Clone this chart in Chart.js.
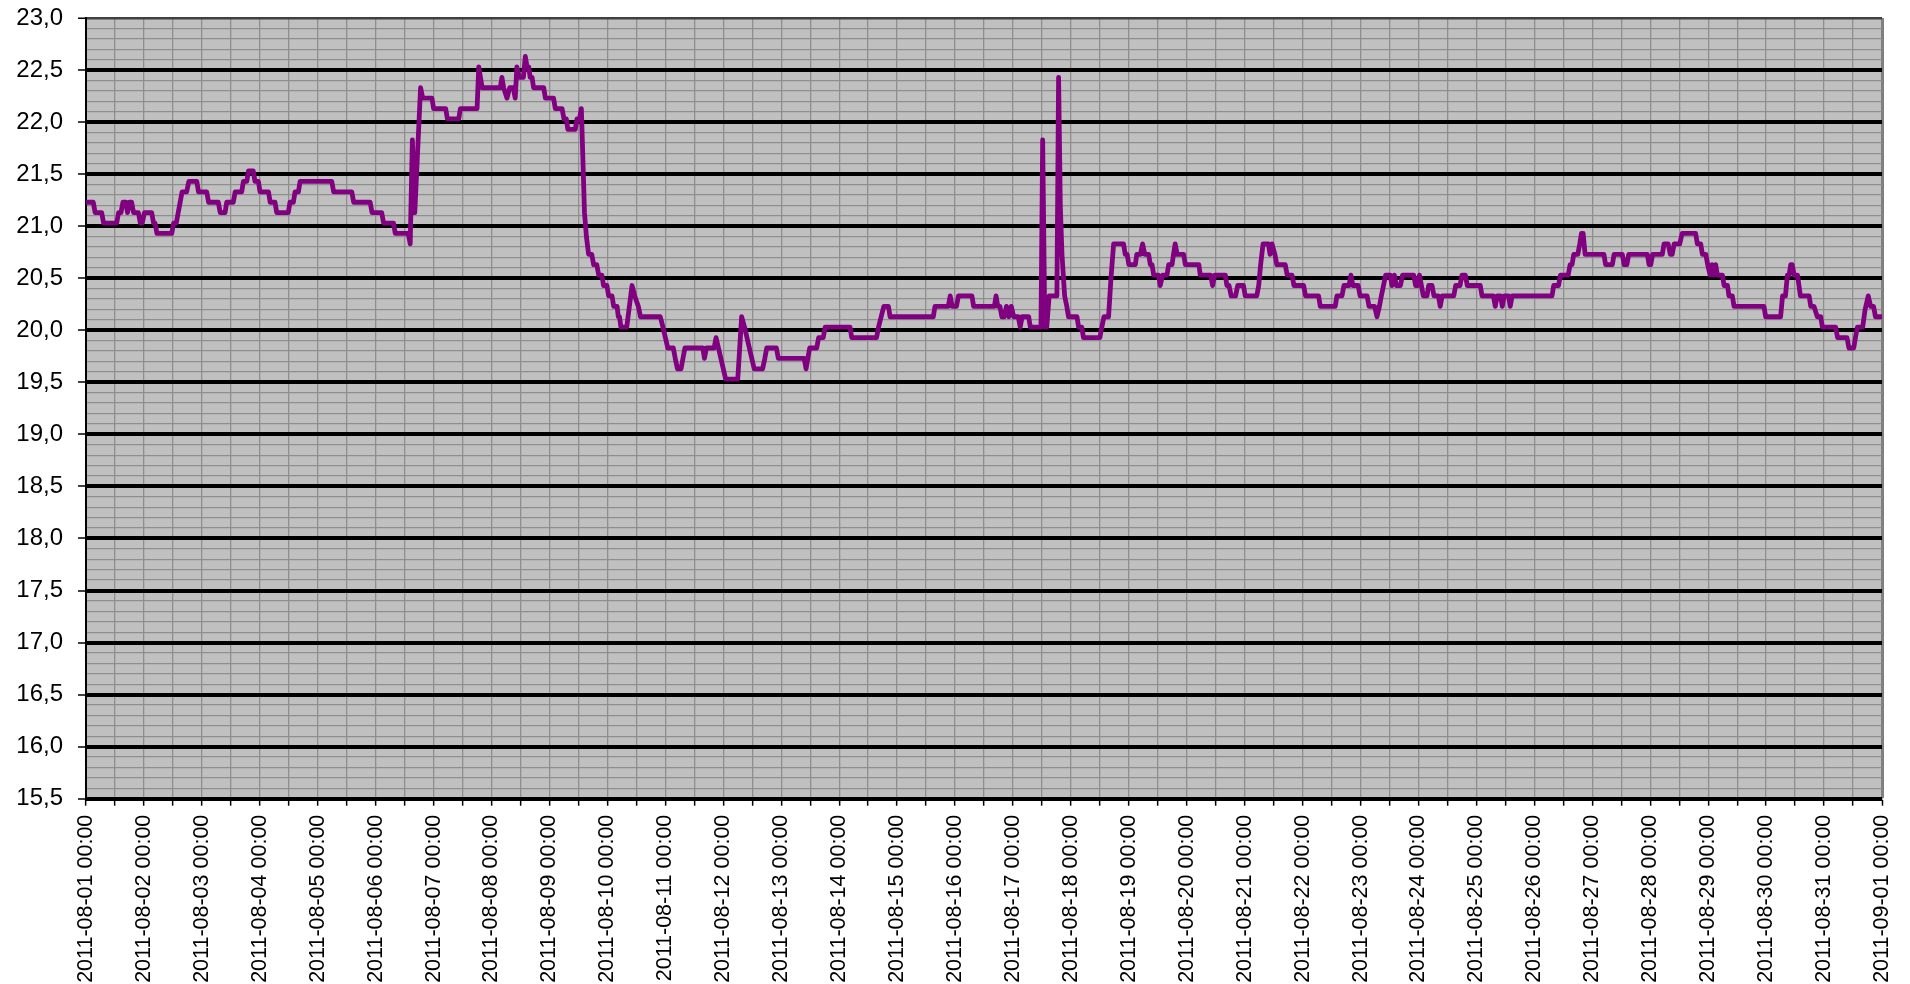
<!DOCTYPE html>
<html>
<head>
<meta charset="utf-8">
<script src="https://cdn.jsdelivr.net/npm/chart.js@4.4.0/dist/chart.umd.min.js"></script>
<style>
html,body{margin:0;padding:0;background:#fff;}
#wrap{width:1910px;height:984px;position:relative;}
</style>
</head>
<body>
<div id="wrap"><canvas id="c"></canvas></div>
<script>
// Tick labels
const dayLabels = [
 '2011-08-01 00:00','2011-08-02 00:00','2011-08-03 00:00','2011-08-04 00:00','2011-08-05 00:00',
 '2011-08-06 00:00','2011-08-07 00:00','2011-08-08 00:00','2011-08-09 00:00','2011-08-10 00:00',
 '2011-08-11 00:00','2011-08-12 00:00','2011-08-13 00:00','2011-08-14 00:00','2011-08-15 00:00',
 '2011-08-16 00:00','2011-08-17 00:00','2011-08-18 00:00','2011-08-19 00:00','2011-08-20 00:00',
 '2011-08-21 00:00','2011-08-22 00:00','2011-08-23 00:00','2011-08-24 00:00','2011-08-25 00:00',
 '2011-08-26 00:00','2011-08-27 00:00','2011-08-28 00:00','2011-08-29 00:00','2011-08-30 00:00',
 '2011-08-31 00:00','2011-09-01 00:00'];
const yTickLabels = ['15,5','16,0','16,5','17,0','17,5','18,0','18,5','19,0','19,5','20,0','20,5','21,0','21,5','22,0','22,5','23,0'];

// Series: hours since 2011-08-01 00:00 and temperature readings
const hours = [
 0,3,3.8,6.5,7.3,12.7,13.5,14.5,15.3,16.5,
 17.2,18,18.9,19.7,21.7,22.5,23.3,24.2,27.2,28,
 28.6,29.4,35.5,36.3,37.4,38.2,39,39.8,41.7,42.6,
 45.9,46.6,50,50.8,54.8,55.6,57.6,58.3,61,61.8,
 64.5,65.2,66.6,67.3,69.3,70,71.4,72.1,75.6,76.3,
 78.3,79,83.8,84.5,85.9,86.6,88,88.7,101.8,102.6,
 110.1,110.9,117.7,118.5,122.5,123.3,127.4,128.1,133.5,134.3,
 135.2,136.2,138.6,139.5,143.3,144,149,149.7,154.4,155.1,
 162,162.7,163.4,164.1,171.6,172.3,173,174.4,175.5,177,
 177.8,178.5,179.5,181.2,182,182.7,183.4,184,184.8,185.4,
 189.6,190.3,193.7,194.4,197.2,198,199,199.6,202.7,203.4,
 204.4,205.2,205.9,206.5,207.3,208.2,209.5,210.3,211.6,212.4,
 213.7,214.4,215.8,216.5,217.9,218.6,220,220.5,221,221.6,
 224,226.2,227.3,228.8,229.7,237.9,239,240,241,243.3,
 244.1,245,246.5,247.3,248.1,255.5,256.2,257,260.2,261,
 262,263,264,265,270,271.6,272.8,273.8,274.8,275.8,
 276.8,280.3,281.2,282,286,286.8,297.5,298.3,299,299.8,
 302.7,303.5,305.4,306.2,316.5,317.2,327.5,328.3,329.4,330.5,
 332.4,333.1,351,351.7,357.2,358,358.8,360.6,361.4,367,
 367.7,376.3,377,377.7,378.6,379.4,380.4,381.3,382.3,383.3,
 384.3,386.2,387,387.8,390.5,391.2,395.6,396.3,397.2,398,
 399,402.2,402.9,403.6,404.3,405.4,406.3,407,410.5,411.2,
 412.5,413.2,420,420.8,421.7,423.6,424.6,425.7,429.8,430.5,
 431.3,432,434.7,435.3,436.8,437.7,438.6,440.2,440.9,441.6,
 442.3,444.3,445,446,447.8,448.5,449.9,450.5,451.2,452,
 454.7,455.4,461,461.6,465.9,466.7,467.6,472,472.6,473.5,
 474.4,476.2,477.1,479.5,480.2,485,485.8,486.6,487.6,489.8,
 490.5,491.3,492.5,493.3,496.8,497.6,499.6,500.4,504.4,505.2,
 510.6,511.3,517.5,518.2,520.3,521.1,523.2,524,524.8,527,
 527.8,530.7,531.5,533.8,534.8,535.8,536.6,537.5,538.4,540.3,
 541,542,542.8,544.5,545.4,550,550.8,551.6,552.4,553.2,
 554,555.5,556.2,557.6,558.4,560.2,561,561.8,566.6,567.4,
 569.2,570,571.4,572.2,577.6,578.3,583,583.8,584.6,586,
 586.7,587.5,589.3,590,590.8,607.3,608,610,610.8,614,
 614.8,615.6,616.3,618,618.8,619.5,620.2,621,628.8,629.5,
 632.3,633,636.4,637.2,638.3,639.1,646.8,647.5,648.2,649,
 653,653.7,655.4,656.3,657.1,657.9,660.2,661.2,666.8,667.5,
 668.9,669.6,671,671.8,672.8,673.6,674.4,675.1,675.8,677.9,
 678.6,680,680.6,682,682.7,695.1,695.8,702,702.8,704,
 704.8,705.5,706.2,706.8,707.6,709,709.6,710.2,713.8,714.5,
 715.8,717.2,718.6,719.3,724.8,725.6,729.5,730.3,732.3,733,
 733.8,736,737,738.3,739.3,740.5,741.3,744];
const temps = [
 21.23,21.23,21.13,21.13,21.03,21.03,21.13,21.13,21.23,21.23,
 21.13,21.23,21.23,21.13,21.13,21.03,21.03,21.13,21.13,21.03,
 21.03,20.93,20.93,21.03,21.03,21.13,21.23,21.33,21.33,21.43,
 21.43,21.33,21.33,21.23,21.23,21.13,21.13,21.23,21.23,21.33,
 21.33,21.43,21.43,21.53,21.53,21.43,21.43,21.33,21.33,21.23,
 21.23,21.13,21.13,21.23,21.23,21.33,21.33,21.43,21.43,21.33,
 21.33,21.23,21.23,21.13,21.13,21.03,21.03,20.93,20.93,20.83,
 21.83,21.13,22.33,22.23,22.23,22.13,22.13,22.03,22.03,22.13,
 22.13,22.53,22.43,22.33,22.33,22.43,22.33,22.23,22.33,22.33,
 22.23,22.53,22.43,22.43,22.63,22.53,22.53,22.43,22.43,22.33,
 22.33,22.23,22.23,22.13,22.13,22.03,22.03,21.93,21.93,22.03,
 22.03,22.13,21.6,21.13,20.9,20.73,20.73,20.63,20.63,20.53,
 20.53,20.43,20.43,20.33,20.33,20.23,20.23,20.13,20.13,20.03,
 20.03,20.43,20.33,20.23,20.13,20.13,20.03,19.93,19.83,19.83,
 19.73,19.63,19.63,19.73,19.83,19.83,19.73,19.83,19.83,19.93,
 19.83,19.73,19.63,19.53,19.53,20.13,20.03,19.93,19.83,19.73,
 19.63,19.63,19.73,19.83,19.83,19.73,19.73,19.63,19.73,19.83,
 19.83,19.93,19.93,20.03,20.03,19.93,19.93,20.03,20.13,20.23,
 20.23,20.13,20.13,20.23,20.23,20.33,20.23,20.23,20.33,20.33,
 20.23,20.23,20.33,20.23,20.23,20.13,20.13,20.23,20.13,20.23,
 20.13,20.13,20.03,20.13,20.13,20.03,20.03,21.83,20.03,20.03,
 20.33,20.33,22.43,21.2,20.73,20.33,20.23,20.13,20.13,20.03,
 20.03,19.93,19.93,20.03,20.13,20.13,20.5,20.83,20.83,20.73,
 20.73,20.63,20.63,20.73,20.73,20.83,20.73,20.73,20.63,20.63,
 20.53,20.53,20.43,20.53,20.53,20.63,20.63,20.73,20.83,20.73,
 20.73,20.63,20.63,20.53,20.53,20.43,20.53,20.53,20.43,20.43,
 20.33,20.33,20.43,20.43,20.33,20.33,20.43,20.63,20.83,20.83,
 20.73,20.83,20.73,20.63,20.63,20.53,20.53,20.43,20.43,20.33,
 20.33,20.23,20.23,20.33,20.33,20.43,20.43,20.53,20.43,20.43,
 20.33,20.33,20.23,20.23,20.13,20.23,20.33,20.43,20.53,20.53,
 20.43,20.53,20.43,20.43,20.53,20.53,20.43,20.43,20.53,20.43,
 20.33,20.33,20.43,20.43,20.33,20.33,20.23,20.33,20.33,20.43,
 20.43,20.53,20.53,20.43,20.43,20.33,20.33,20.23,20.33,20.33,
 20.23,20.33,20.33,20.23,20.33,20.33,20.43,20.43,20.53,20.53,
 20.63,20.63,20.73,20.73,20.83,20.93,20.93,20.73,20.73,20.63,
 20.63,20.73,20.73,20.63,20.63,20.73,20.73,20.63,20.63,20.73,
 20.73,20.83,20.83,20.73,20.73,20.83,20.83,20.93,20.93,20.83,
 20.83,20.73,20.73,20.63,20.53,20.63,20.53,20.63,20.53,20.53,
 20.43,20.43,20.33,20.33,20.23,20.23,20.13,20.13,20.33,20.33,
 20.53,20.53,20.63,20.63,20.53,20.53,20.43,20.33,20.33,20.23,
 20.23,20.13,20.13,20.03,20.03,19.93,19.93,19.83,19.83,19.93,
 20.03,20.03,20.2,20.33,20.23,20.23,20.13,20.13];

const FONT = 'Liberation Sans, Arial, Helvetica, sans-serif';
const isMajor = v => Math.abs(v * 2 - Math.round(v * 2)) < 1e-6;

const bgPlugin = {
  id: 'bg',
  beforeDraw(chart) {
    const {ctx, chartArea: a} = chart;
    ctx.save();
    ctx.fillStyle = '#ffffff';
    ctx.fillRect(0, 0, chart.width, chart.height);
    ctx.fillStyle = '#c0c0c0';
    ctx.fillRect(a.left, a.top, a.right - a.left, a.bottom - a.top);
    ctx.restore();
  }
};

new Chart(document.getElementById('c'), {
  type: 'line',
  data: {
    datasets: [{
      data: hours.map((h, i) => ({x: h, y: temps[i]})),
      borderColor: '#800080',
      borderWidth: 4.8,
      pointRadius: 0,
      tension: 0,
      fill: false,
      borderJoinStyle: 'round',
      borderCapStyle: 'round'
    }]
  },
  options: {
    responsive: true,
    maintainAspectRatio: false,
    animation: false,
    layout: {padding: {top: 18, right: 28, left: 0, bottom: 0}},
    plugins: {legend: {display: false}, tooltip: {enabled: false}},
    scales: {
      x: {
        type: 'linear',
        min: 0,
        max: 744,
        afterBuildTicks: s => {
          const t = [];
          for (let i = 0; i <= 62; i++) t.push({value: i * 12});
          s.ticks = t;
        },
        afterFit: s => { s.height = 185.3; },
        ticks: {
          autoSkip: false,
          maxRotation: 90,
          minRotation: 90,
          padding: 9,
          color: '#000',
          font: {family: FONT, size: 21.5, lineHeight: 0.5},
          callback: v => (v % 24 === 0 ? dayLabels[v / 24] : '')
        },
        grid: {
          color: c => (c.tick && c.tick.value === 744 ? '#808080' : '#8e8e8e'),
          lineWidth: c => (c.tick && c.tick.value === 744 ? 3 : 1.3),
          tickColor: '#000',
          tickLength: 7,
          tickWidth: 1.5
        },
        border: {color: '#000', width: 2}
      },
      y: {
        min: 15.5,
        max: 23,
        afterBuildTicks: s => {
          const t = [];
          for (let i = 155; i <= 230; i++) t.push({value: i / 10});
          s.ticks = t;
        },
        afterFit: s => { s.width = 86; },
        ticks: {
          autoSkip: false,
          padding: 15,
          color: '#000',
          font: {family: FONT, size: 24, lineHeight: 0.2},
          callback: v => (isMajor(v) ? yTickLabels[Math.round((v - 15.5) * 2)] : '')
        },
        grid: {
          color: c => {
            const v = c.tick ? c.tick.value : 0;
            if (Math.abs(v - 23) < 1e-6) return '#404040';
            return isMajor(v) ? '#000' : '#8e8e8e';
          },
          lineWidth: c => {
            const v = c.tick ? c.tick.value : 0;
            if (Math.abs(v - 23) < 1e-6) return 2.5;
            return isMajor(v) ? 4 : 1.3;
          },
          tickColor: c => (c.tick && isMajor(c.tick.value) ? '#000' : 'rgba(0,0,0,0)'),
          tickLength: 8,
          tickWidth: 1.5
        },
        border: {color: '#000', width: 2}
      }
    }
  },
  plugins: [bgPlugin]
});
</script>
</body>
</html>
